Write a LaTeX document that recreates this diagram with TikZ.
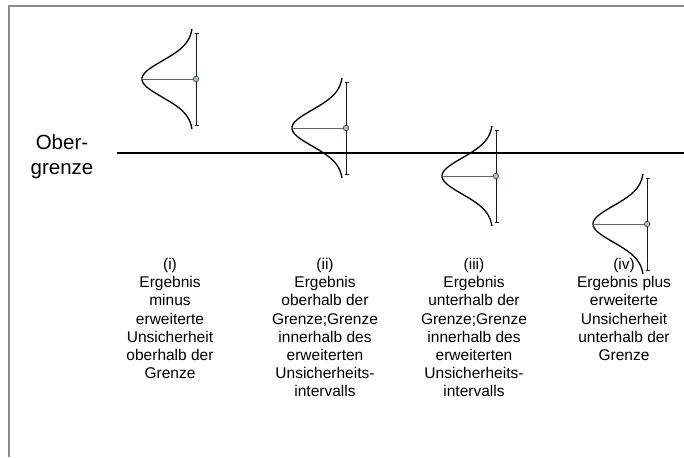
\documentclass[tikz,border=0pt]{standalone}
\usepackage{fontspec}
\setmainfont{Liberation Sans}
\definecolor{dotfill}{RGB}{165,200,200}
\definecolor{framegray}{RGB}{140,140,140}
\newcommand\glocke[3]{%
  \draw[bell] plot[domain=-50:50,samples=81,smooth] ({#1-3-51*exp(-(\x*\x)/648)},{#2+\x});
  \draw[vline] (#1,#2-46) -- (#1,#2+46);
  \draw[vline] (#1-1,#2-46) -- (#1+3,#2-46);
  \draw[vline] (#1-1,#2+46) -- (#1+3,#2+46);
  \coordinate (#3t) at (#1-54,#2);
  \node[dotc] (#3) at (#1,#2) {};
  \draw[hline] (#3t) -- (#3);
}
\begin{document}
\begin{tikzpicture}[x=1pt,y=-1pt,
  vline/.style={draw=black!90, line width=0.9pt},
  hline/.style={draw=black!60, line width=0.9pt},
  bell/.style={draw=black, line width=1.3pt},
  dotc/.style={circle, draw=black!75, fill=dotfill, inner sep=0pt, minimum size=5.5pt, line width=0.7pt},
  lbl/.style={align=center, font=\fontsize{15.5}{18.2}\selectfont, anchor=north, inner sep=0pt},
]
\useasboundingbox (0,0) rectangle (684,457);
\draw[framegray, line width=1.5pt] (9,457) -- (9,6) -- (684,6);

\glocke{196}{79}{p1}
\glocke{346}{128}{p2}
\glocke{496}{176}{p3}
\glocke{647}{224}{p4}

\coordinate (L1) at (117,153);
\coordinate (L2) at (684,153);
\draw[line width=2.6pt] (L1) -- (L2);

\node[align=center, font=\fontsize{20.5}{25}\selectfont] (ober) at (62,157) {Ober-\\grenze};

\node[lbl] (t1) at (170,258) {(i)\\Ergebnis\\minus\\erweiterte\\Unsicherheit\\oberhalb der\\Grenze};
\node[lbl] (t2) at (325,258) {(ii)\\Ergebnis\\oberhalb der\\Grenze;Grenze\\innerhalb des\\erweiterten\\Unsicherheits-\\intervalls};
\node[lbl] (t3) at (474,258) {(iii)\\Ergebnis\\unterhalb der\\Grenze;Grenze\\innerhalb des\\erweiterten\\Unsicherheits-\\intervalls};
\node[lbl] (t4) at (624,258) {(iv)\\Ergebnis plus\\erweiterte\\Unsicherheit\\unterhalb der\\Grenze};
\end{tikzpicture}
\end{document}
